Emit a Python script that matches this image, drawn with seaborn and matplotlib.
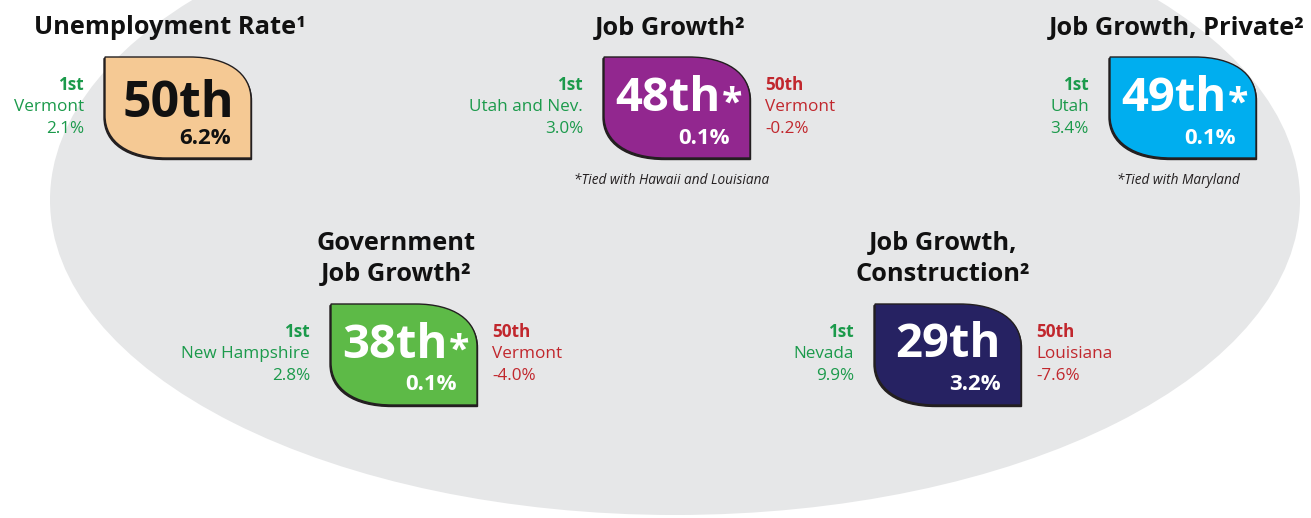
import matplotlib
matplotlib.use("Agg")
import matplotlib.pyplot as plt
import seaborn as sns
from matplotlib.patches import Ellipse, PathPatch
from matplotlib.path import Path

# ---- data ----
titles = ["Unemployment Rate¹", "Job Growth²", "Job Growth, Private²",
          "Government\nJob Growth²", "Job Growth,\nConstruction²"]
ranks = ["50th", "48th*", "49th*", "38th*", "29th"]
values = ["6.2%", "0.1%", "0.1%", "0.1%", "3.2%"]
first_states = ["Vermont", "Utah and Nev.", "Utah", "New Hampshire", "Nevada"]
first_values = ["2.1%", "3.0%", "3.4%", "2.8%", "9.9%"]
last_states = [None, "Vermont", None, "Vermont", "Louisiana"]
last_values = [None, "-0.2%", None, "-4.0%", "-7.6%"]
footnotes = [None, "*Tied with Hawaii and Louisiana", "*Tied with Maryland", None, None]

# ---- styles / layout ----
badge_colors = ["#f5c994", "#92278f", "#00aeef", "#5dba47", "#262262"]
badge_text_colors = ["#111111", "white", "white", "white", "white"]
badge_boxes = [(105, 57), (604, 57), (1110, 57), (331, 304), (875, 304)]  # left, top
rank_sizes = [36, 34, 34, 34, 34]
rank_baselines = [60, 54, 54, 54, 53]
BW, BH = 146, 101
title_pos = [(170, 28), (670, 28), (1177, 28), (396, 259), (943, 259)]
GREEN = "#1b9a4b"
RED = "#c1272d"

sns.set_theme(style="white")
plt.rcParams["font.family"] = ["Open Sans", "DejaVu Sans"]

fig = plt.figure(figsize=(13.11, 5.18), dpi=100)
ax = fig.add_axes([0, 0, 1, 1])
ax.set_xlim(0, 1311)
ax.set_ylim(518, 0)
ax.axis("off")
renderer = fig.canvas.get_renderer()

ax.add_patch(Ellipse((675, 200), 1250, 630, facecolor="#e6e7e8", edgecolor="none", zorder=0))

k = 0.62
def badge_path(x0, y0, w, h):
    cx, cy = 0.42, 0.42
    pts = [(0, 0), (1 - cx, 0), (1 - cx + cx * k, 0), (1, cy - cy * k), (1, cy),
           (1, 1), (cx, 1), (cx - cx * k, 1), (0, 1 - cy + cy * k), (0, 1 - cy), (0, 0)]
    codes = [Path.MOVETO, Path.LINETO, Path.CURVE4, Path.CURVE4, Path.CURVE4,
             Path.LINETO, Path.LINETO, Path.CURVE4, Path.CURVE4, Path.CURVE4, Path.CLOSEPOLY]
    verts = [(x0 + px * w, y0 + py * h) for px, py in pts]
    return Path(verts, codes)

def width_of(t):
    bb = t.get_window_extent(renderer=renderer)
    return bb.width

for i in range(len(titles)):
    x0, y0 = badge_boxes[i]
    # shadow + badge
    ax.add_patch(PathPatch(badge_path(x0 - 1, y0 + 1.5, BW + 1.5, BH), facecolor="#231f20",
                           edgecolor="#231f20", lw=1.0, zorder=1))
    ax.add_patch(PathPatch(badge_path(x0, y0, BW, BH), facecolor=badge_colors[i],
                           edgecolor="#231f20", lw=1.0, zorder=2))
    cx = x0 + BW / 2
    tc = badge_text_colors[i]
    main = ranks[i].rstrip("*")
    star = ranks[i][len(main):]
    by = y0 + rank_baselines[i]
    tm = ax.text(cx, by, main, ha="left", va="baseline", fontsize=rank_sizes[i],
                 fontweight="bold", color=tc, zorder=3)
    wm = width_of(tm)
    ws = 0
    ts = None
    if star:
        ts = ax.text(cx, by + 4, star, ha="left", va="baseline", fontsize=27,
                     fontweight="bold", color=tc, zorder=3)
        ws = width_of(ts) - 2
    left = cx - (wm + ws) / 2
    tm.set_x(left)
    if ts is not None:
        ts.set_x(left + wm + 1)
    ax.text(cx + 27, y0 + 81, values[i], ha="center", va="center", fontsize=16,
            fontweight="bold", color=tc, zorder=3)
    tx, ty = title_pos[i]
    ax.text(tx, ty, titles[i], ha="center", va="center", fontsize=18.3, fontweight="bold",
            color="#111111", linespacing=1.33, zorder=3)
    # first / last
    lx = x0 - 21
    fs = 12.3
    ax.text(lx, y0 + 28, "1st", ha="right", va="center", fontsize=fs, fontweight="bold", color=GREEN)
    ax.text(lx, y0 + 50, first_states[i], ha="right", va="center", fontsize=fs, color=GREEN)
    ax.text(lx, y0 + 72, first_values[i], ha="right", va="center", fontsize=fs, color=GREEN)
    if last_states[i]:
        rx = x0 + BW + 15
        ax.text(rx, y0 + 28, "50th", ha="left", va="center", fontsize=fs, fontweight="bold", color=RED)
        ax.text(rx, y0 + 50, last_states[i], ha="left", va="center", fontsize=fs, color=RED)
        ax.text(rx, y0 + 72, last_values[i], ha="left", va="center", fontsize=fs, color=RED)
    if footnotes[i]:
        ax.text(cx - 5, y0 + 123, footnotes[i], ha="center", va="center", fontsize=9.8,
                style="italic", color="#231f20")

fig.savefig("out.png", dpi=100)
